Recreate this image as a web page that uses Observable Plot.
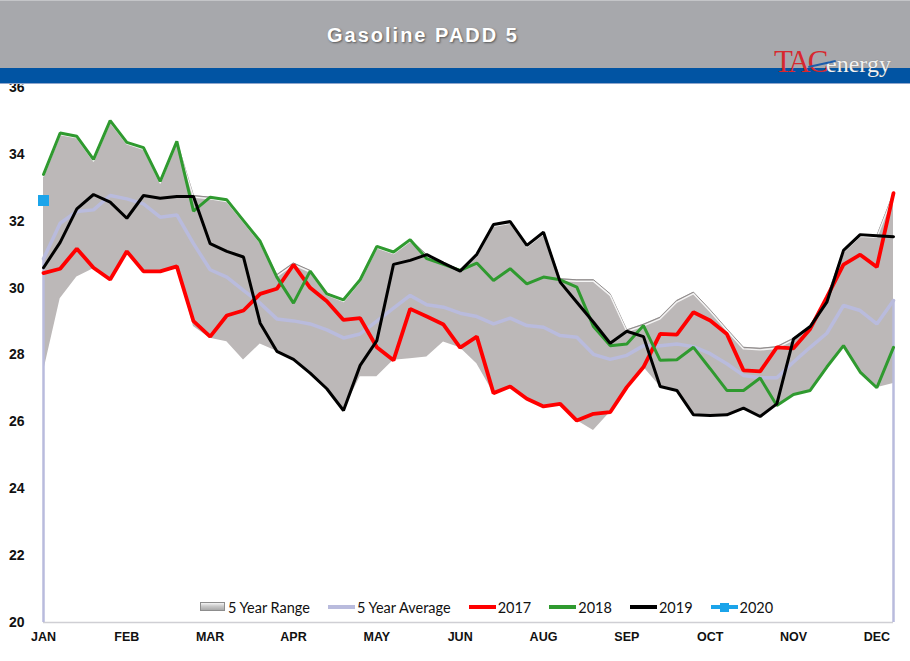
<!DOCTYPE html>
<html>
<head>
<meta charset="utf-8">
<script src="https://cdn.jsdelivr.net/npm/d3@7"></script>
<script src="https://cdn.jsdelivr.net/npm/@observablehq/plot@0.6"></script>
<style>
  html, body { margin: 0; padding: 0; background: #fff; }
  #wrap { position: relative; width: 910px; height: 661px; overflow: hidden; background: #fff; }
  #chart { position: absolute; left: 0; top: 0; }
  #header { position: absolute; left: 0; top: 0; width: 910px; height: 68px; background: #a7a8ac; border-top: 1px solid #c4c5c8; box-sizing: border-box; }
  #stripe { position: absolute; left: 0; top: 68px; width: 910px; height: 15px; background: #0154a3; border-bottom: 1px solid #8fa6cc; }
  #title { position: absolute; left: 327px; top: 23px; font: bold 20px "Liberation Sans", Arial, sans-serif; letter-spacing: 2px; color: #fff; text-shadow: 1px 1px 2px rgba(60,60,60,0.75); white-space: nowrap; }
  #logo { position: absolute; left: 774px; top: 46px; white-space: nowrap; font-family: "Liberation Serif", "DejaVu Serif", serif; line-height: 1; }
  #logo .tac { color: #d7282f; font-size: 31px; letter-spacing: -2.5px; }
  #logo .en { color: #f2f2f2; font-size: 24px; text-shadow: 0 0 1px rgba(80,80,80,0.6); }
  #swoosh { position: absolute; left: 808px; top: 63px; width: 28px; height: 2px; background: #1c5cab; transform: rotate(-12deg); }
  #legend { position: absolute; left: 199px; top: 598px; display: flex; align-items: center; font: 14.5px Lato, "Liberation Sans", sans-serif; color: #111; white-space: nowrap; }
  #legend .item { display: flex; align-items: center; margin-right: 18px; }
  #legend .sw { width: 27px; height: 18px; position: relative; margin-right: 2px; }
  #legend .sw .ln { position: absolute; left: 0; right: 0; top: 7px; height: 4px; }
  #legend .sw .box { position: absolute; left: 1px; right: 1px; top: 4px; height: 9px; background: linear-gradient(#f4f4f4, #c9c9c9 45%, #a9a9a9); border: 1px solid #8d8d8d; box-sizing: border-box; }
  #legend .sw .sq { position: absolute; left: 9px; top: 5px; width: 9px; height: 9px; }
  svg g[aria-label="y-axis tick label"] text { font: bold 14px "Liberation Sans Narrow", "Arial Narrow", "Liberation Sans", Arial, sans-serif; }
  svg g[aria-label="x-axis tick label"] text { font: bold 12.5px "Liberation Sans Narrow", "Arial Narrow", "Liberation Sans", Arial, sans-serif; }
</style>
</head>
<body>
<div id="wrap">
  <div id="chart"></div>
  <div id="header"><div id="title">Gasoline PADD 5</div></div>
  <div id="stripe"></div>
  <div id="logo"><span class="tac">TAC</span><span class="en">energy</span></div>
  <div id="swoosh"></div>
  <div id="legend"></div>
</div>
<script>
// ---- data (weekly, 52 weeks) ----
const monthLabels = ["JAN","FEB","MAR","APR","MAY","JUN","AUG","SEP","OCT","NOV","DEC"];
const monthTickWeeks = [0,5,10,15,20,25,30,35,40,45,50];
const yTicks = [20,22,24,26,28,30,32,34,36];

const rangeHigh = [
  33.40,34.64,34.54,33.85,35.01,34.36,34.20,33.19,34.39,32.77,
  32.72,32.64,32.02,31.40,30.40,30.75,30.53,29.85,29.65,30.25,
  31.25,31.08,31.45,31.00,30.75,30.55,31.01,31.90,31.99,31.28,
  31.67,30.28,30.25,30.25,29.83,28.75,28.92,29.13,29.63,29.88,
  29.35,28.78,28.23,28.20,28.25,28.50,28.85,29.73,31.13,31.60,
  31.57,32.84];
const rangeLow = [
  27.50,29.68,30.33,30.58,30.26,31.10,30.50,30.50,30.65,28.85,
  28.50,28.40,27.85,28.33,28.11,27.86,27.46,26.99,26.34,27.35,
  27.35,27.84,27.89,27.94,28.39,28.22,27.74,26.86,27.06,26.69,
  26.46,26.54,26.04,25.74,26.29,27.04,27.64,27.06,26.94,26.21,
  26.19,26.21,26.41,26.16,26.49,26.82,26.94,27.64,28.28,27.49,
  27.02,27.15];
const avg5 = [
  30.88,31.94,32.29,32.34,32.77,32.67,32.52,32.12,32.19,31.33,
  30.55,30.33,29.93,29.55,29.08,29.02,28.93,28.75,28.51,28.63,
  29.01,29.40,29.78,29.50,29.43,29.25,29.15,28.93,29.10,28.88,
  28.83,28.58,28.53,28.02,27.87,27.99,28.28,28.28,28.33,28.25,
  28.04,27.74,27.39,27.32,27.32,27.79,28.23,28.65,29.48,29.33,
  28.93,29.63];
const y2017 = [
  30.45,30.58,31.18,30.61,30.26,31.10,30.50,30.50,30.65,29.01,
  28.55,29.18,29.33,29.83,29.98,30.70,30.01,29.61,29.05,29.10,
  28.23,27.84,29.38,29.15,28.91,28.22,28.55,26.86,27.06,26.69,
  26.46,26.54,26.04,26.24,26.29,27.04,27.64,28.63,28.61,29.28,
  29.03,28.63,27.54,27.51,28.23,28.20,28.78,29.73,30.70,31.00,
  30.63,32.84];
const y2018 = [
  33.40,34.64,34.54,33.85,35.01,34.36,34.20,33.19,34.39,32.30,
  32.72,32.64,32.02,31.40,30.33,29.55,30.51,29.83,29.65,30.25,
  31.25,31.08,31.45,30.88,30.71,30.53,30.75,30.23,30.58,30.13,
  30.33,30.25,30.03,28.85,28.28,28.33,28.88,27.84,27.86,28.23,
  27.59,26.94,26.94,27.31,26.49,26.82,26.94,27.64,28.28,27.49,
  27.02,28.23];
const y2019 = [
  30.61,31.37,32.37,32.80,32.57,32.09,32.77,32.69,32.74,32.74,
  31.33,31.10,30.93,28.95,28.11,27.87,27.46,26.99,26.34,27.69,
  28.43,30.71,30.83,31.00,30.75,30.51,31.01,31.90,31.99,31.28,
  31.67,30.18,29.58,28.98,28.35,28.71,28.55,27.06,26.94,26.21,
  26.19,26.21,26.41,26.16,26.54,28.48,28.85,29.58,31.13,31.60,
  31.57,31.54];
const y2020 = [32.62];

// ---- build table ----
const rows = avg5.map((a, i) => ({
  week: i, lo: rangeLow[i], hi: rangeHigh[i], avg: a,
  y17: y2017[i], y18: y2018[i], y19: y2019[i]
}));
const pts2020 = y2020.map((v, i) => ({week: i, v}));
const avgEnds = [rows[0], rows[rows.length - 1]];

const colors = {range: "#bcb8b8", avg: "#b9bbdd", y17: "#ff0000", y18: "#2f9a2f", y19: "#000000", y20: "#1ba4ea"};
const yMin = d3.min(yTicks), yMax = d3.max(yTicks);

const chart = Plot.plot({
  width: 910,
  height: 661,
  marginTop: 87,
  marginBottom: 39,
  marginLeft: 43,
  marginRight: 17,
  style: {background: "transparent", color: "#111"},
  x: {domain: [0, rows.length - 1], axis: null},
  y: {domain: [yMin, yMax], axis: null},
  marks: [
    Plot.ruleY([yMin], {stroke: "#cfcfd4", strokeWidth: 1.5}),
    Plot.areaY(rows, {x: "week", y1: "lo", y2: "hi", fill: colors.range}),
    Plot.line(rows, {x: "week", y: "hi", stroke: "#8e8a8a", strokeWidth: 1}),
    Plot.line(rows, {x: "week", y: "hi", stroke: "#ffffff", strokeWidth: 1.4, strokeOpacity: 0.85, dy: 1.6}),
    Plot.ruleX(avgEnds, {x: "week", y1: () => yMin, y2: "avg", stroke: colors.avg, strokeWidth: 2.5}),
    Plot.line(rows, {x: "week", y: "avg", stroke: colors.avg, strokeWidth: 3.5, strokeLinejoin: "miter"}),
    Plot.line(rows, {x: "week", y: "y17", stroke: colors.y17, strokeWidth: 3.8, strokeLinejoin: "miter"}),
    Plot.line(rows, {x: "week", y: "y18", stroke: colors.y18, strokeWidth: 3, strokeLinejoin: "miter"}),
    Plot.line(rows, {x: "week", y: "y19", stroke: colors.y19, strokeWidth: 3, strokeLinejoin: "miter"}),
    Plot.dot(pts2020, {x: "week", y: "v", symbol: "square", r: 6.2, fill: colors.y20, stroke: null}),
    Plot.axisY({ticks: yTicks, tickSize: 0, tickPadding: 19, label: null, tickFormat: d => String(d)}),
    Plot.axisX({ticks: monthTickWeeks, tickSize: 0, tickPadding: 10, label: null,
      tickFormat: d => monthLabels[monthTickWeeks.indexOf(d)]})
  ]
});
document.getElementById("chart").appendChild(chart);

// ---- legend ----
const legendItems = [
  {label: "5 Year Range", kind: "box"},
  {label: "5 Year Average", kind: "line", color: colors.avg},
  {label: "2017", kind: "line", color: colors.y17},
  {label: "2018", kind: "line", color: colors.y18},
  {label: "2019", kind: "line", color: colors.y19},
  {label: "2020", kind: "marker", color: colors.y20}
];
const legend = document.getElementById("legend");
for (const it of legendItems) {
  const item = document.createElement("div");
  item.className = "item";
  const sw = document.createElement("div");
  sw.className = "sw";
  if (it.kind === "box") {
    sw.innerHTML = '<div class="box"></div>';
  } else {
    sw.innerHTML = `<div class="ln" style="background:${it.color}"></div>` +
      (it.kind === "marker" ? `<div class="sq" style="background:${it.color}"></div>` : "");
  }
  const t = document.createElement("span");
  t.textContent = it.label;
  item.appendChild(sw);
  item.appendChild(t);
  legend.appendChild(item);
}
</script>
</body>
</html>
